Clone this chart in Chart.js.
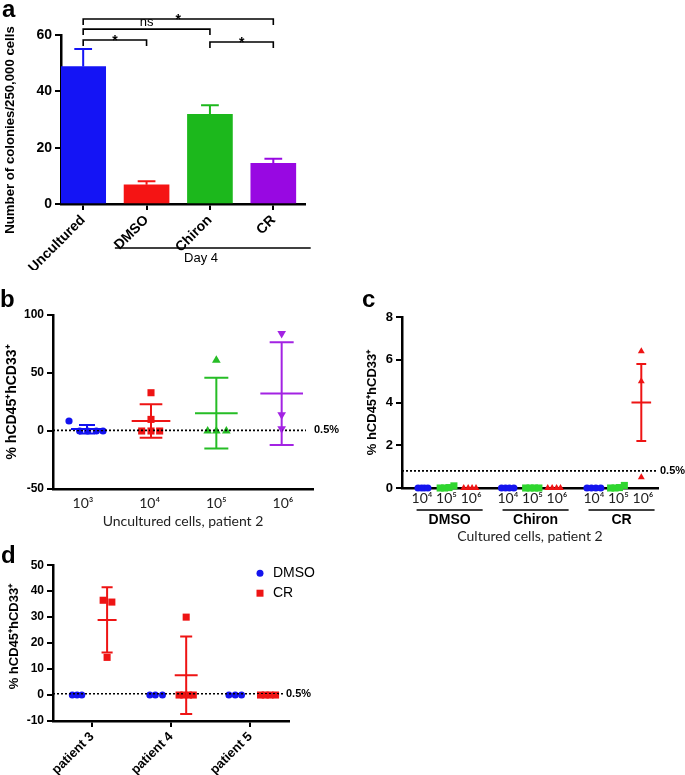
<!DOCTYPE html>
<html>
<head>
<meta charset="utf-8">
<script src="https://cdn.jsdelivr.net/npm/chart.js@4/dist/chart.umd.min.js"></script>
<style>
  body { margin: 0; background: #fff; }
  #page { position: relative; width: 685px; height: 775px; background: #fff; overflow: hidden; }
  canvas { position: absolute; }
  .tag { position: absolute; font: bold 24px "Liberation Sans", Arial, sans-serif; color: #000; line-height: 1; }
</style>
</head>
<body>
<div id="page">
  <canvas id="chartA" width="345" height="270" style="left:0;top:0"></canvas>
  <canvas id="chartB" width="345" height="240" style="left:0;top:300px"></canvas>
  <canvas id="chartC" width="340" height="250" style="left:345px;top:300px"></canvas>
  <canvas id="chartD" width="400" height="220" style="left:0;top:555px"></canvas>
  <div class="tag" style="left:2px;top:-3px">a</div>
  <div class="tag" style="left:0px;top:287px">b</div>
  <div class="tag" style="left:362px;top:287px">c</div>
  <div class="tag" style="left:1px;top:543px">d</div>
</div>
<script>
// ---- panel a: colony counts ----
var colonyGroups = ["Uncultured", "DMSO", "Chiron", "CR"];
var colonyMeans = [48.8, 6.8, 31.8, 14.4];
var colonyUpper = [55, 8.1, 35.1, 16.1];

// ---- panel b: uncultured cells, patient 2 ----
var doseLabels = ["10³", "10⁴", "10⁵", "10⁶"];
var unc1e3 = [{x: 0.79, y: 8.6}, {x: 0.95, y: 0}, {x: 1.07, y: 0}, {x: 1.2, y: 0}, {x: 1.3, y: 0}];
var unc1e4 = [{x: 2.02, y: 33}, {x: 2.02, y: 10}, {x: 1.88, y: 0}, {x: 2.02, y: 0}, {x: 2.15, y: 0}];
var unc1e5 = [{x: 3.0, y: 61}, {x: 2.87, y: 0}, {x: 3.0, y: 0}, {x: 3.15, y: 0}];
var unc1e6 = [{x: 3.98, y: 84}, {x: 3.98, y: 14}, {x: 3.98, y: 2}];
var uncCenter = [1.06, 2.02, 3.0, 3.98];
var uncMean = [1.7, 8.6, 15.3, 32.3];
var uncLow = [-2.2, -5.8, -15, -12];
var uncHigh = [5.2, 23, 45.8, 76.5];

// ---- panel c: cultured cells, patient 2 ----
var cultDoses = ["10⁴", "10⁵", "10⁶", "10⁴", "10⁵", "10⁶", "10⁴", "10⁵", "10⁶"];
var cultTickX = [1, 2, 3, 4.5, 5.5, 6.5, 8, 9, 10];
var cultConditions = ["DMSO", "Chiron", "CR"];
var cultCondCenter = [2, 5.5, 9];
var cult1e4 = [{x: 0.84, y: 0}, {x: 0.98, y: 0}, {x: 1.1, y: 0}, {x: 1.24, y: 0},
               {x: 4.24, y: 0}, {x: 4.4, y: 0}, {x: 4.56, y: 0}, {x: 4.74, y: 0},
               {x: 7.72, y: 0}, {x: 7.9, y: 0}, {x: 8.08, y: 0}, {x: 8.28, y: 0}];
var cult1e5 = [{x: 1.74, y: 0}, {x: 1.92, y: 0}, {x: 2.1, y: 0.02}, {x: 2.3, y: 0.1},
               {x: 5.22, y: 0}, {x: 5.4, y: 0}, {x: 5.58, y: 0}, {x: 5.76, y: 0},
               {x: 8.68, y: 0}, {x: 8.86, y: 0}, {x: 9.04, y: 0.02}, {x: 9.24, y: 0.12}];
var cult1e6 = [{x: 2.7, y: 0}, {x: 2.88, y: 0}, {x: 3.04, y: 0}, {x: 3.2, y: 0},
               {x: 6.12, y: 0}, {x: 6.3, y: 0}, {x: 6.48, y: 0}, {x: 6.64, y: 0},
               {x: 9.93, y: 6.4}, {x: 9.93, y: 5.0}, {x: 9.93, y: 0.5}];
var cultCenter = [9.93];
var cultMean = [4.0];
var cultLow = [2.2];
var cultHigh = [5.8];

// ---- panel d: patients 3-5 ----
var patients = ["patient 3", "patient 4", "patient 5"];
var dmsoPts = [{x: 0.75, y: 0}, {x: 0.81, y: 0}, {x: 0.87, y: 0},
               {x: 1.73, y: 0}, {x: 1.8, y: 0}, {x: 1.89, y: 0},
               {x: 2.73, y: 0}, {x: 2.81, y: 0}, {x: 2.89, y: 0}];
var crPts = [{x: 1.14, y: 36.5}, {x: 1.25, y: 35.8}, {x: 1.19, y: 14.5},
             {x: 2.19, y: 30}, {x: 2.1, y: 0}, {x: 2.16, y: 0}, {x: 2.22, y: 0}, {x: 2.28, y: 0},
             {x: 3.13, y: 0}, {x: 3.19, y: 0}, {x: 3.25, y: 0}, {x: 3.32, y: 0}];
var crCenter = [1.19, 2.19, 3.22];
var crMean = [28.9, 7.6, 0];
var crLow = [16.4, -7.3, 0];
var crHigh = [41.5, 22.5, 0];

Chart.defaults.font.family = '"Liberation Sans", Arial, sans-serif';
Chart.defaults.color = "#000";
Chart.defaults.animation = false;

var yTitle = "% hCD45⁺hCD33⁺";

function fixedTicks(values) {
  return function (scale) {
    scale.ticks = values.map(function (v) { return {value: v}; });
  };
}

function yAxis(min, max, step, width, title, titleSize, titlePad, tickSize) {
  return {
    type: "linear", min: min, max: max,
    ticks: {stepSize: step, font: {weight: "bold", size: tickSize}, color: "#000", padding: 3},
    grid: {drawOnChartArea: false, color: "#000", lineWidth: 2, tickLength: 6},
    border: {color: "#000", width: 2.5},
    title: {display: !!title, text: title, color: "#000", font: {weight: "bold", size: titleSize}, padding: {top: titlePad, bottom: 0}},
    afterFit: function (s) { s.width = width; }
  };
}

// rotated y title placed off the plot centre (the figure's titles are not centred on the axis)
function drawYTitle(chart, text, size, x, dy) {
  var ctx = chart.ctx, ca = chart.chartArea;
  ctx.save();
  ctx.translate(x, (ca.top + ca.bottom) / 2 + dy);
  ctx.rotate(-Math.PI / 2);
  ctx.font = "bold " + size + 'px "Liberation Sans", Arial, sans-serif';
  ctx.fillStyle = "#000";
  ctx.textAlign = "center";
  ctx.textBaseline = "middle";
  ctx.fillText(text, 0, 0);
  ctx.restore();
}

function drawErrorBars(chart, center, mean, low, high, colors, meanHalf, capHalf) {
  var ctx = chart.ctx, xs = chart.scales.x, ys = chart.scales.y;
  ctx.save();
  ctx.lineWidth = 2;
  center.forEach(function (c, i) {
    var x = xs.getPixelForValue(c);
    var mw = xs.getPixelForValue(c + meanHalf[i]) - x;
    var cw = xs.getPixelForValue(c + capHalf[i]) - x;
    var yl = ys.getPixelForValue(low[i]), yh = ys.getPixelForValue(high[i]), ym = ys.getPixelForValue(mean[i]);
    ctx.strokeStyle = colors[i];
    ctx.beginPath();
    ctx.moveTo(x, yl); ctx.lineTo(x, yh);
    ctx.moveTo(x - cw, yh); ctx.lineTo(x + cw, yh);
    ctx.moveTo(x - cw, yl); ctx.lineTo(x + cw, yl);
    ctx.moveTo(x - mw, ym); ctx.lineTo(x + mw, ym);
    ctx.stroke();
  });
  ctx.restore();
}

function drawThreshold(chart, value, lineEnd, labelX) {
  var ctx = chart.ctx, ca = chart.chartArea;
  var y = chart.scales.y.getPixelForValue(value);
  ctx.save();
  ctx.strokeStyle = "#000";
  ctx.lineWidth = 1.6;
  ctx.setLineDash([2, 2]);
  ctx.beginPath();
  ctx.moveTo(ca.left, y);
  ctx.lineTo(ca.right + lineEnd, y);
  ctx.stroke();
  ctx.setLineDash([]);
  ctx.font = 'bold 11px "Liberation Sans", Arial, sans-serif';
  ctx.fillStyle = "#000";
  ctx.textBaseline = "middle";
  ctx.textAlign = "left";
  ctx.fillText("0.5%", ca.right + labelX, y);
  ctx.restore();
}

// ---------- chart a ----------
new Chart(document.getElementById("chartA"), {
  type: "bar",
  data: {
    datasets: [{
      data: colonyMeans.map(function (v, i) { return {x: i + 1, y: v}; }),
      backgroundColor: ["#1414f5", "#f51414", "#1cb81c", "#9808e2"],
      borderWidth: 0,
      barThickness: 45
    }]
  },
  options: {
    responsive: false,
    layout: {padding: {left: 0, top: 35, right: 40, bottom: 0}},
    plugins: {legend: {display: false}, tooltip: {enabled: false}},
    scales: {
      x: {
        type: "linear", min: 0.65, max: 4.5, offset: false,
        afterBuildTicks: fixedTicks([1, 2, 3, 4]),
        afterFit: function (s) { s.height = 66; },
        ticks: {
          autoSkip: false, minRotation: 45, maxRotation: 45, padding: 2,
          font: {weight: "bold", size: 14}, color: "#000",
          callback: function (v, i) { return colonyGroups[i]; }
        },
        grid: {drawOnChartArea: false, offset: false, color: "#000", lineWidth: 2, tickLength: 6},
        border: {color: "#000", width: 2.5}
      },
      y: yAxis(0, 60, 20, 61, "", 13, 0, 14)
    }
  },
  plugins: [{
    id: "colonyExtras",
    afterDatasetsDraw: function (chart) {
      var ctx = chart.ctx, xs = chart.scales.x, ys = chart.scales.y;
      var colors = chart.data.datasets[0].backgroundColor;
      drawYTitle(chart, "Number of colonies/250,000 cells", 13.2, 10, 10.5);
      // upper error bars
      ctx.save();
      ctx.lineWidth = 2;
      colonyMeans.forEach(function (m, i) {
        var x = xs.getPixelForValue(i + 1);
        var half = xs.getPixelForValue(i + 1.14) - x;
        var yt = ys.getPixelForValue(colonyUpper[i]);
        ctx.strokeStyle = colors[i];
        ctx.beginPath();
        ctx.moveTo(x, ys.getPixelForValue(m));
        ctx.lineTo(x, yt);
        ctx.moveTo(x - half, yt);
        ctx.lineTo(x + half, yt);
        ctx.stroke();
      });
      // significance brackets
      var brackets = [[1, 4, 65.7, "*"], [1, 3, 62.1, "ns"], [1, 2, 58.2, "*"], [3, 4, 57.5, "*"]];
      ctx.strokeStyle = "#000";
      ctx.fillStyle = "#000";
      ctx.lineWidth = 1.6;
      ctx.textAlign = "center";
      brackets.forEach(function (b) {
        var x1 = xs.getPixelForValue(b[0]), x2 = xs.getPixelForValue(b[1]), y = ys.getPixelForValue(b[2]);
        ctx.beginPath();
        ctx.moveTo(x1, y + 6); ctx.lineTo(x1, y); ctx.lineTo(x2, y); ctx.lineTo(x2, y + 6);
        ctx.stroke();
        if (b[3] === "ns") {
          ctx.font = '13px "Liberation Sans", Arial, sans-serif';
          ctx.textBaseline = "bottom";
          ctx.fillText(b[3], (x1 + x2) / 2, y - 0.5);
        } else {
          ctx.font = 'bold 14px "Liberation Sans", Arial, sans-serif';
          ctx.textBaseline = "alphabetic";
          ctx.fillText(b[3], (x1 + x2) / 2, y + 5);
        }
      });
      // Day 4 group line
      var yd = 248;
      ctx.lineWidth = 1.3;
      ctx.beginPath();
      ctx.moveTo(xs.getPixelForValue(1.5), yd);
      ctx.lineTo(xs.getPixelForValue(4.59), yd);
      ctx.stroke();
      ctx.font = '13px "Liberation Sans", Arial, sans-serif';
      ctx.textBaseline = "middle";
      ctx.fillText("Day 4", xs.getPixelForValue(2.86), yd + 10);
      ctx.restore();
    }
  }]
});

// ---------- chart b ----------
function pointSet(data, color, style, radius, rot) {
  return {data: data, backgroundColor: color, borderColor: color, borderWidth: 0,
          pointStyle: style, pointRadius: radius, rotation: rot || 0, clip: false};
}

new Chart(document.getElementById("chartB"), {
  type: "scatter",
  data: {
    datasets: [
      pointSet(unc1e3, "#1212f0", "circle", 3.6),
      pointSet(unc1e4, "#ee1414", "rect", 5),
      pointSet(unc1e5, "#26bd26", "triangle", 5),
      pointSet(unc1e6, "#a323e3", "triangle", 5, 180)
    ]
  },
  options: {
    responsive: false,
    layout: {padding: {left: 0, top: 15, right: 32, bottom: 0}},
    plugins: {legend: {display: false}, tooltip: {enabled: false}},
    scales: {
      x: {
        type: "linear", min: 0.55, max: 4.45,
        afterBuildTicks: fixedTicks([1, 2, 3, 4]),
        afterFit: function (s) { s.height = 51; },
        ticks: {autoSkip: false, maxRotation: 0, padding: 6, font: {family: "Lato", size: 14}, color: "#222",
                callback: function (v, i) { return doseLabels[i]; }},
        grid: {drawOnChartArea: false, drawTicks: false},
        border: {color: "#000", width: 2.5},
        title: {display: true, text: "Uncultured cells, patient 2", color: "#222",
                font: {family: "Lato", size: 14}, padding: {top: 0, bottom: 10}}
      },
      y: yAxis(-50, 100, 50, 53, yTitle, 14, 4, 12)
    }
  },
  plugins: [{
    id: "uncExtras",
    afterDatasetsDraw: function (chart) {
      drawThreshold(chart, 0.5, -7, 1);
      drawErrorBars(chart, uncCenter, uncMean, uncLow, uncHigh,
        ["#1212f0", "#ee1414", "#26bd26", "#a323e3"],
        [0.24, 0.29, 0.32, 0.32], [0.12, 0.17, 0.18, 0.18]);
    }
  }]
});

// ---------- chart c ----------
new Chart(document.getElementById("chartC"), {
  type: "scatter",
  data: {
    datasets: [
      pointSet(cult1e4, "#1414ee", "circle", 3.6),
      pointSet(cult1e5, "#2fd62f", "rect", 5),
      pointSet(cult1e6, "#ee1414", "triangle", 4)
    ]
  },
  options: {
    responsive: false,
    layout: {padding: {left: 0, top: 17, right: 27, bottom: 0}},
    plugins: {legend: {display: false}, tooltip: {enabled: false}},
    scales: {
      x: {
        type: "linear", min: 0.186, max: 10.61,
        afterBuildTicks: fixedTicks(cultTickX),
        afterFit: function (s) { s.height = 62; },
        ticks: {autoSkip: false, maxRotation: 0, padding: 2, font: {family: "Lato", size: 14}, color: "#222",
                callback: function (v, i) { return cultDoses[i]; }},
        grid: {drawOnChartArea: false, drawTicks: false},
        border: {color: "#000", width: 2.5},
        title: {display: true, text: "Cultured cells, patient 2", color: "#222",
                font: {family: "Lato", size: 14}, padding: {top: 0, bottom: 5}}
      },
      y: yAxis(0, 8, 2, 57, yTitle, 13, 20, 13)
    }
  },
  plugins: [{
    id: "cultExtras",
    afterDatasetsDraw: function (chart) {
      drawThreshold(chart, 0.8, -2, 2);
      drawErrorBars(chart, cultCenter, cultMean, cultLow, cultHigh, ["#ee1414"], [0.4], [0.2]);
      var ctx = chart.ctx, xs = chart.scales.x;
      var yLine = chart.chartArea.bottom + 22;
      ctx.save();
      ctx.strokeStyle = "#000";
      ctx.fillStyle = "#000";
      ctx.lineWidth = 1.6;
      ctx.font = 'bold 14px "Liberation Sans", Arial, sans-serif';
      ctx.textAlign = "center";
      ctx.textBaseline = "middle";
      cultConditions.forEach(function (name, i) {
        var x1 = xs.getPixelForValue(cultCondCenter[i] - 1.22);
        var x2 = xs.getPixelForValue(cultCondCenter[i] + 1.47);
        ctx.beginPath();
        ctx.moveTo(x1, yLine); ctx.lineTo(x2, yLine);
        ctx.stroke();
        ctx.fillText(name, (x1 + x2) / 2, yLine + 10);
      });
      ctx.restore();
    }
  }]
});

// ---------- chart d ----------
new Chart(document.getElementById("chartD"), {
  type: "scatter",
  data: {
    datasets: [
      Object.assign(pointSet(dmsoPts, "#1414ee", "circle", 3.5), {label: "DMSO"}),
      Object.assign(pointSet(crPts, "#ee1414", "rect", 5), {label: "CR"})
    ]
  },
  options: {
    responsive: false,
    layout: {padding: {left: 0, top: 9, right: 111, bottom: 0}},
    plugins: {legend: {display: false}, tooltip: {enabled: false}},
    scales: {
      x: {
        type: "linear", min: 0.506, max: 3.49,
        afterBuildTicks: fixedTicks([1, 2, 3]),
        afterFit: function (s) { s.height = 54; },
        ticks: {autoSkip: false, minRotation: 45, maxRotation: 45, padding: 2,
                font: {weight: "bold", size: 13}, color: "#000",
                callback: function (v, i) { return patients[i]; }},
        grid: {drawOnChartArea: false, color: "#000", lineWidth: 2, tickLength: 6},
        border: {color: "#000", width: 2.5}
      },
      y: yAxis(-10, 50, 10, 53, "", 13, 0, 12)
    }
  },
  plugins: [{
    id: "patientExtras",
    afterDatasetsDraw: function (chart) {
      drawYTitle(chart, yTitle, 13, 14, -6.5);
      drawThreshold(chart, 0.5, -5, -3);
      drawErrorBars(chart, crCenter, crMean, crLow, crHigh, ["#ee1414", "#ee1414", "#ee1414"],
        [0.12, 0.145, 0.13], [0.07, 0.076, 0.0]);
      // legend
      var ctx = chart.ctx, ca = chart.chartArea;
      ctx.save();
      ctx.font = '14px "Liberation Sans", Arial, sans-serif';
      ctx.textBaseline = "middle";
      ctx.textAlign = "left";
      chart.data.datasets.forEach(function (ds, i) {
        var x = ca.right - 29, y = ca.top + 8 + i * 20;
        ctx.fillStyle = ds.backgroundColor;
        if (ds.pointStyle === "circle") {
          ctx.beginPath(); ctx.arc(x, y, 3.5, 0, Math.PI * 2); ctx.fill();
        } else {
          ctx.fillRect(x - 3.5, y - 3.5, 7, 7);
        }
        ctx.fillStyle = "#000";
        ctx.fillText(ds.label, x + 13, y);
      });
      ctx.restore();
    }
  }]
});
</script>
</body>
</html>
